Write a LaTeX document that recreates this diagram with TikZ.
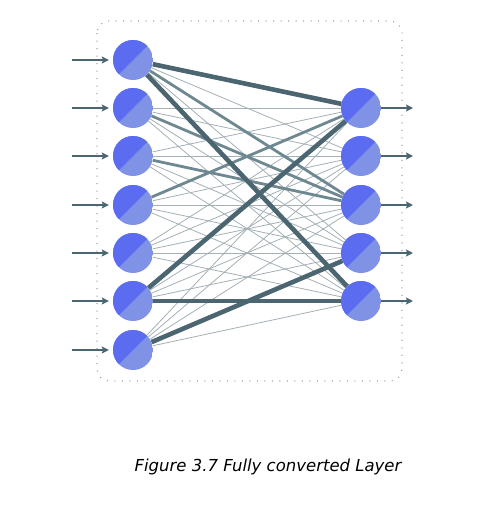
\documentclass[tikz,border=0pt]{standalone}
\usepackage{fontspec}
\newfontfamily\legende{DejaVu Sans}
\usepackage{xcolor}
\usetikzlibrary{arrows.meta,positioning}
\definecolor{neurfonce}{HTML}{5B6CF0}
\definecolor{neurclair}{HTML}{7F92E6}
\definecolor{poids}{HTML}{4B6571}
\definecolor{poidsmoy}{HTML}{6E8891}
\definecolor{poidsfin}{HTML}{A3B0B5}
\definecolor{cadre}{HTML}{9AA3A8}

\begin{document}
\begin{tikzpicture}[x=1pt,y=-1pt,
  neurone/.style={circle, minimum size=40pt, inner sep=0pt,
    path picture={
      \fill[neurclair] (path picture bounding box.south west) rectangle (path picture bounding box.north east);
      \fill[neurfonce] (path picture bounding box.south west) -- (path picture bounding box.north east) -- (path picture bounding box.north west) -- cycle;}},
  fin/.style={poidsfin, line width=0.8pt},
  moyen/.style={poidsmoy, line width=2.8pt},
  fort/.style={poids, line width=4.6pt},
  fleche/.style={-{Stealth[length=7pt,width=7pt,inset=1.2pt]}, poids, line width=1.8pt}]
  \useasboundingbox (0,0) rectangle (483,507);
  % cadre de la couche
  \draw[cadre, line width=1.1pt, dash pattern=on 1pt off 6.5pt, rounded corners=12pt] (97,21) rectangle (402,381);
  % neurones
  \foreach \i/\y in {1/60, 2/108, 3/156, 4/205, 5/253, 6/301, 7/350}
    \node[neurone] (l\i) at (133,\y) {};
  \foreach \j/\y in {1/108, 2/156, 3/205, 4/253, 5/301}
    \node[neurone] (r\j) at (361,\y) {};
  % entrées et sorties
  \foreach \i/\y in {1/60, 2/108, 3/156, 4/205, 5/253, 6/301, 7/350} {
    \coordinate (e\i) at (72,\y);
    \draw[fleche, shorten >=4pt] (e\i) -- (l\i);
  }
  \foreach \j/\y in {1/108, 2/156, 3/205, 4/253, 5/301} {
    \coordinate (s\j) at (413,\y);
    \draw[fleche] (r\j) -- (s\j);
  }
  % connexions
  \foreach \i in {1,...,7}
    \foreach \j in {1,...,5}
      \draw[fin] (l\i) -- (r\j);
  \draw[moyen] (l1) -- (r3);
  \draw[moyen] (l2) -- (r3);
  \draw[moyen] (l3) -- (r3);
  \draw[moyen] (l4) -- (r1);
  \draw[fort] (l1) -- (r1);
  \draw[fort] (l1) -- (r5);
  \draw[fort] (l6) -- (r1);
  \draw[fort] (l6) -- (r5);
  \draw[fort] (l7) -- (r4);
  % légende
  \node[font=\legende\itshape\fontsize{16.5}{20}\selectfont] (titre) at (268,467) {Figure 3.7 Fully converted Layer};
\end{tikzpicture}
\end{document}
